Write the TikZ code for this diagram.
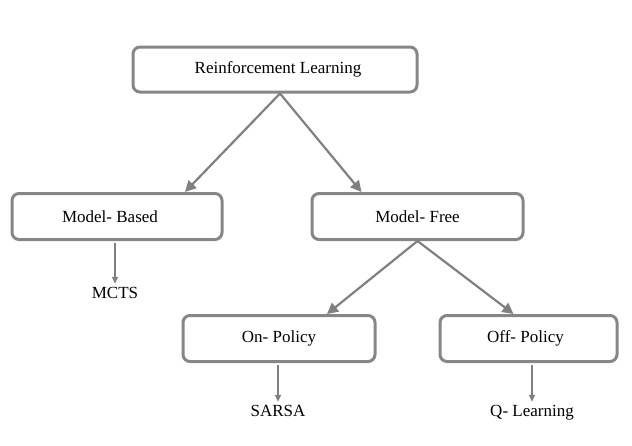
\documentclass[tikz,border=0pt]{standalone}
\usepackage{fontspec}
\setmainfont{Liberation Serif}
\usetikzlibrary{arrows.meta}

\begin{document}
\begin{tikzpicture}[x=1pt, y=-1pt,
	txt/.style={font=\rmfamily\fontsize{17}{20}\selectfont},
	box/.style={draw=gray!95, line width=3pt, rounded corners=7pt, minimum height=46pt, txt},
	every label/.style={txt},
	leaf/.style={inner sep=2pt, text height=12pt, text depth=4pt, txt},
	arr/.style={draw=gray, line width=2.2pt, -{Triangle[length=11pt,width=11pt]}},
	thin/.style={draw=gray, line width=1.4pt, -{Triangle[length=7pt,width=6pt]}}]
\useasboundingbox (0,0) rectangle (632,445);
\node[box, minimum width=284pt, minimum height=45pt, label={[xshift=3pt]center:Reinforcement Learning}] (rl) at (275,69.5) {};
\node[box, minimum width=210pt, label={[xshift=-7pt]center:Model- Based}] (mb) at (117,216.5) {};
\node[box, minimum width=211pt] (mf) at (417.5,216.5) {Model- Free};
\node[box, minimum width=192pt] (on) at (279,338.5) {On- Policy};
\node[box, minimum width=177pt, label={[xshift=-3pt]center:Off- Policy}] (off) at (528.5,338.5) {};
\node[leaf] (mcts) at (115,294) {MCTS};
\node[leaf] (sarsa) at (278,412) {SARSA};
\node[leaf] (ql) at (532,412) {Q- Learning};
\draw[arr] ([xshift=5pt]rl.south) -- ([xshift=68pt]mb.north);
\draw[arr] ([xshift=5pt]rl.south) -- ([xshift=-56pt]mf.north);
\draw[arr] (mf.south) -- ([xshift=48pt]on.north);
\draw[arr] (mf.south) -- ([xshift=-15pt]off.north);
\draw[thin] ([xshift=-2pt, yshift=-2pt]mb.south) -- (mcts.north);
\draw[thin] ([xshift=-1pt, yshift=-2pt]on.south) -- (sarsa.north);
\draw[thin] ([xshift=3.5pt, yshift=-2pt]off.south) -- (ql.north);
\end{tikzpicture}
\end{document}
